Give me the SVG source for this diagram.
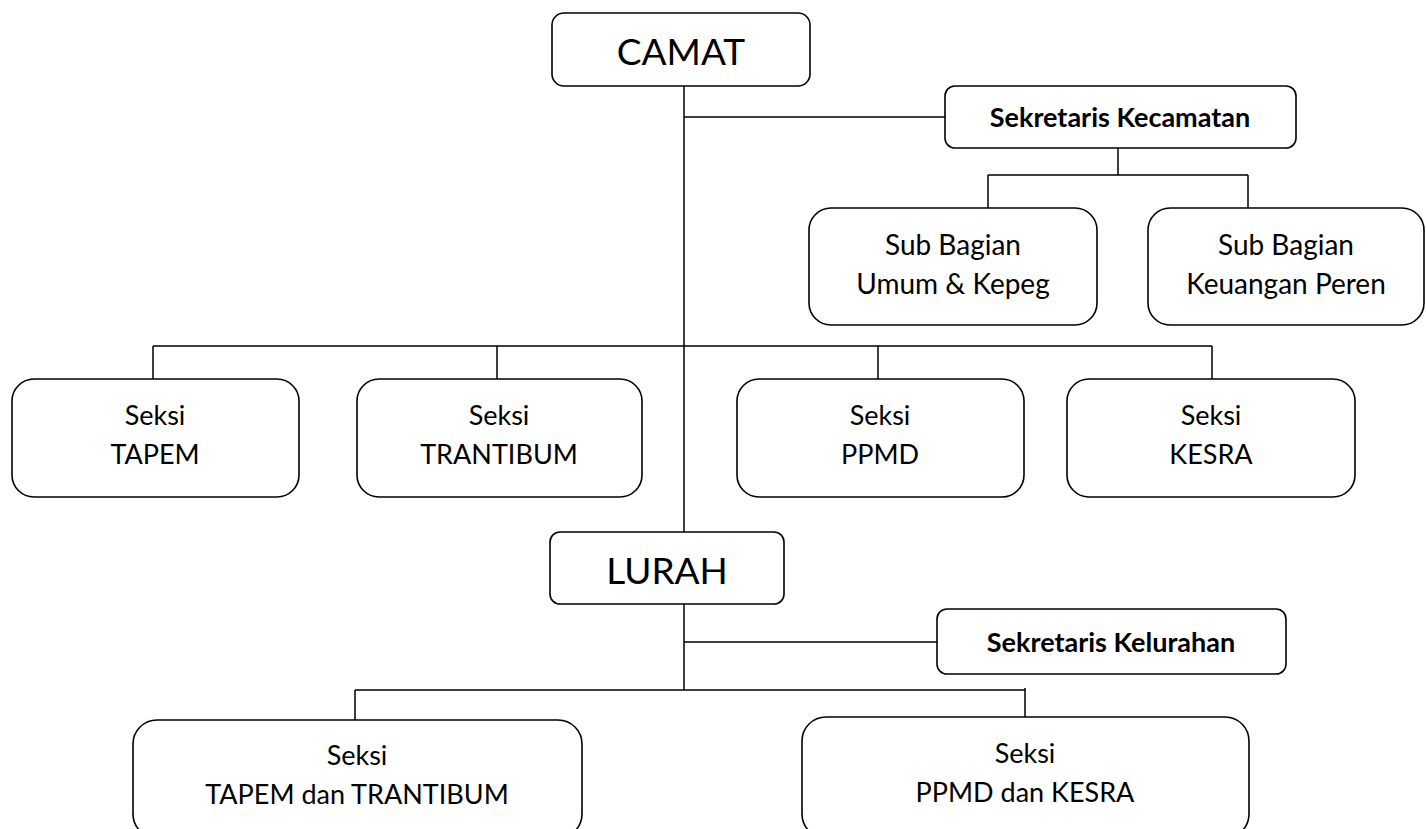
<svg xmlns="http://www.w3.org/2000/svg" width="1426" height="829" viewBox="0 0 1426 829">
<style>
.box{fill:#fff;stroke:#000;stroke-width:1.6}
.ln{stroke:#000;stroke-width:1.5;fill:none}
.t{font-family:Lato,"Noto Sans","Liberation Sans",sans-serif;fill:#000;text-anchor:middle}
.big{font-size:37px}
.sek{font-size:27px;font-weight:bold}
.n{font-size:27px}
.sb{font-size:28px}
</style>
<rect width="1426" height="829" fill="#fff"/>
<g id="connectors">
<path class="ln" d="M684 86V532"/>
<path class="ln" d="M684 117H945"/>
<path class="ln" d="M1118 148V175M988 175H1248M988 175V208M1248 175V208"/>
<path class="ln" d="M153 346H1212M153 346V379M497 346V379M878 346V379M1212 346V379"/>
<path class="ln" d="M684 604V690M684 642H937"/>
<path class="ln" d="M355 690H1025M355 690V720M1025 688V717"/>
</g>
<g id="camat"><rect class="box" x="552" y="13" width="258" height="73" rx="12"/><text class="t big" x="681" y="65">CAMAT</text></g>
<g id="sekcam"><rect class="box" x="945" y="86" width="351" height="62" rx="10"/><text class="t sek" x="1120" y="127">Sekretaris Kecamatan</text></g>
<g id="umum"><rect class="box" x="809" y="208" width="288" height="117" rx="22"/><text class="t sb" x="953" y="255">Sub Bagian</text><text class="t sb" x="953" y="294">Umum &amp; Kepeg</text></g>
<g id="keuangan"><rect class="box" x="1148" y="208" width="276" height="117" rx="22"/><text class="t sb" x="1286" y="255">Sub Bagian</text><text class="t sb" x="1286" y="294">Keuangan Peren</text></g>
<g id="tapem"><rect class="box" x="12" y="379" width="287" height="118" rx="22"/><text class="t n" x="155" y="425">Seksi</text><text class="t n" x="155" y="464">TAPEM</text></g>
<g id="trantibum"><rect class="box" x="357" y="379" width="285" height="118" rx="22"/><text class="t n" x="499" y="425">Seksi</text><text class="t n" x="499" y="464">TRANTIBUM</text></g>
<g id="ppmd"><rect class="box" x="737" y="379" width="287" height="118" rx="22"/><text class="t n" x="880" y="425">Seksi</text><text class="t n" x="880" y="464">PPMD</text></g>
<g id="kesra"><rect class="box" x="1067" y="379" width="288" height="118" rx="22"/><text class="t n" x="1211" y="425">Seksi</text><text class="t n" x="1211" y="464">KESRA</text></g>
<g id="lurah"><rect class="box" x="550" y="532" width="234" height="72" rx="10"/><text class="t big" x="667" y="584">LURAH</text></g>
<g id="sekkel"><rect class="box" x="937" y="609" width="349" height="65" rx="10"/><text class="t sek" x="1111" y="652">Sekretaris Kelurahan</text></g>
<g id="tapemtrantibum"><rect class="box" x="133" y="720" width="449" height="118" rx="24"/><text class="t n" x="357" y="765">Seksi</text><text class="t n" x="357" y="804">TAPEM dan TRANTIBUM</text></g>
<g id="ppmdkesra"><rect class="box" x="802" y="717" width="447" height="121" rx="24"/><text class="t n" x="1025" y="763">Seksi</text><text class="t n" x="1025" y="802">PPMD dan KESRA</text></g>
</svg>
